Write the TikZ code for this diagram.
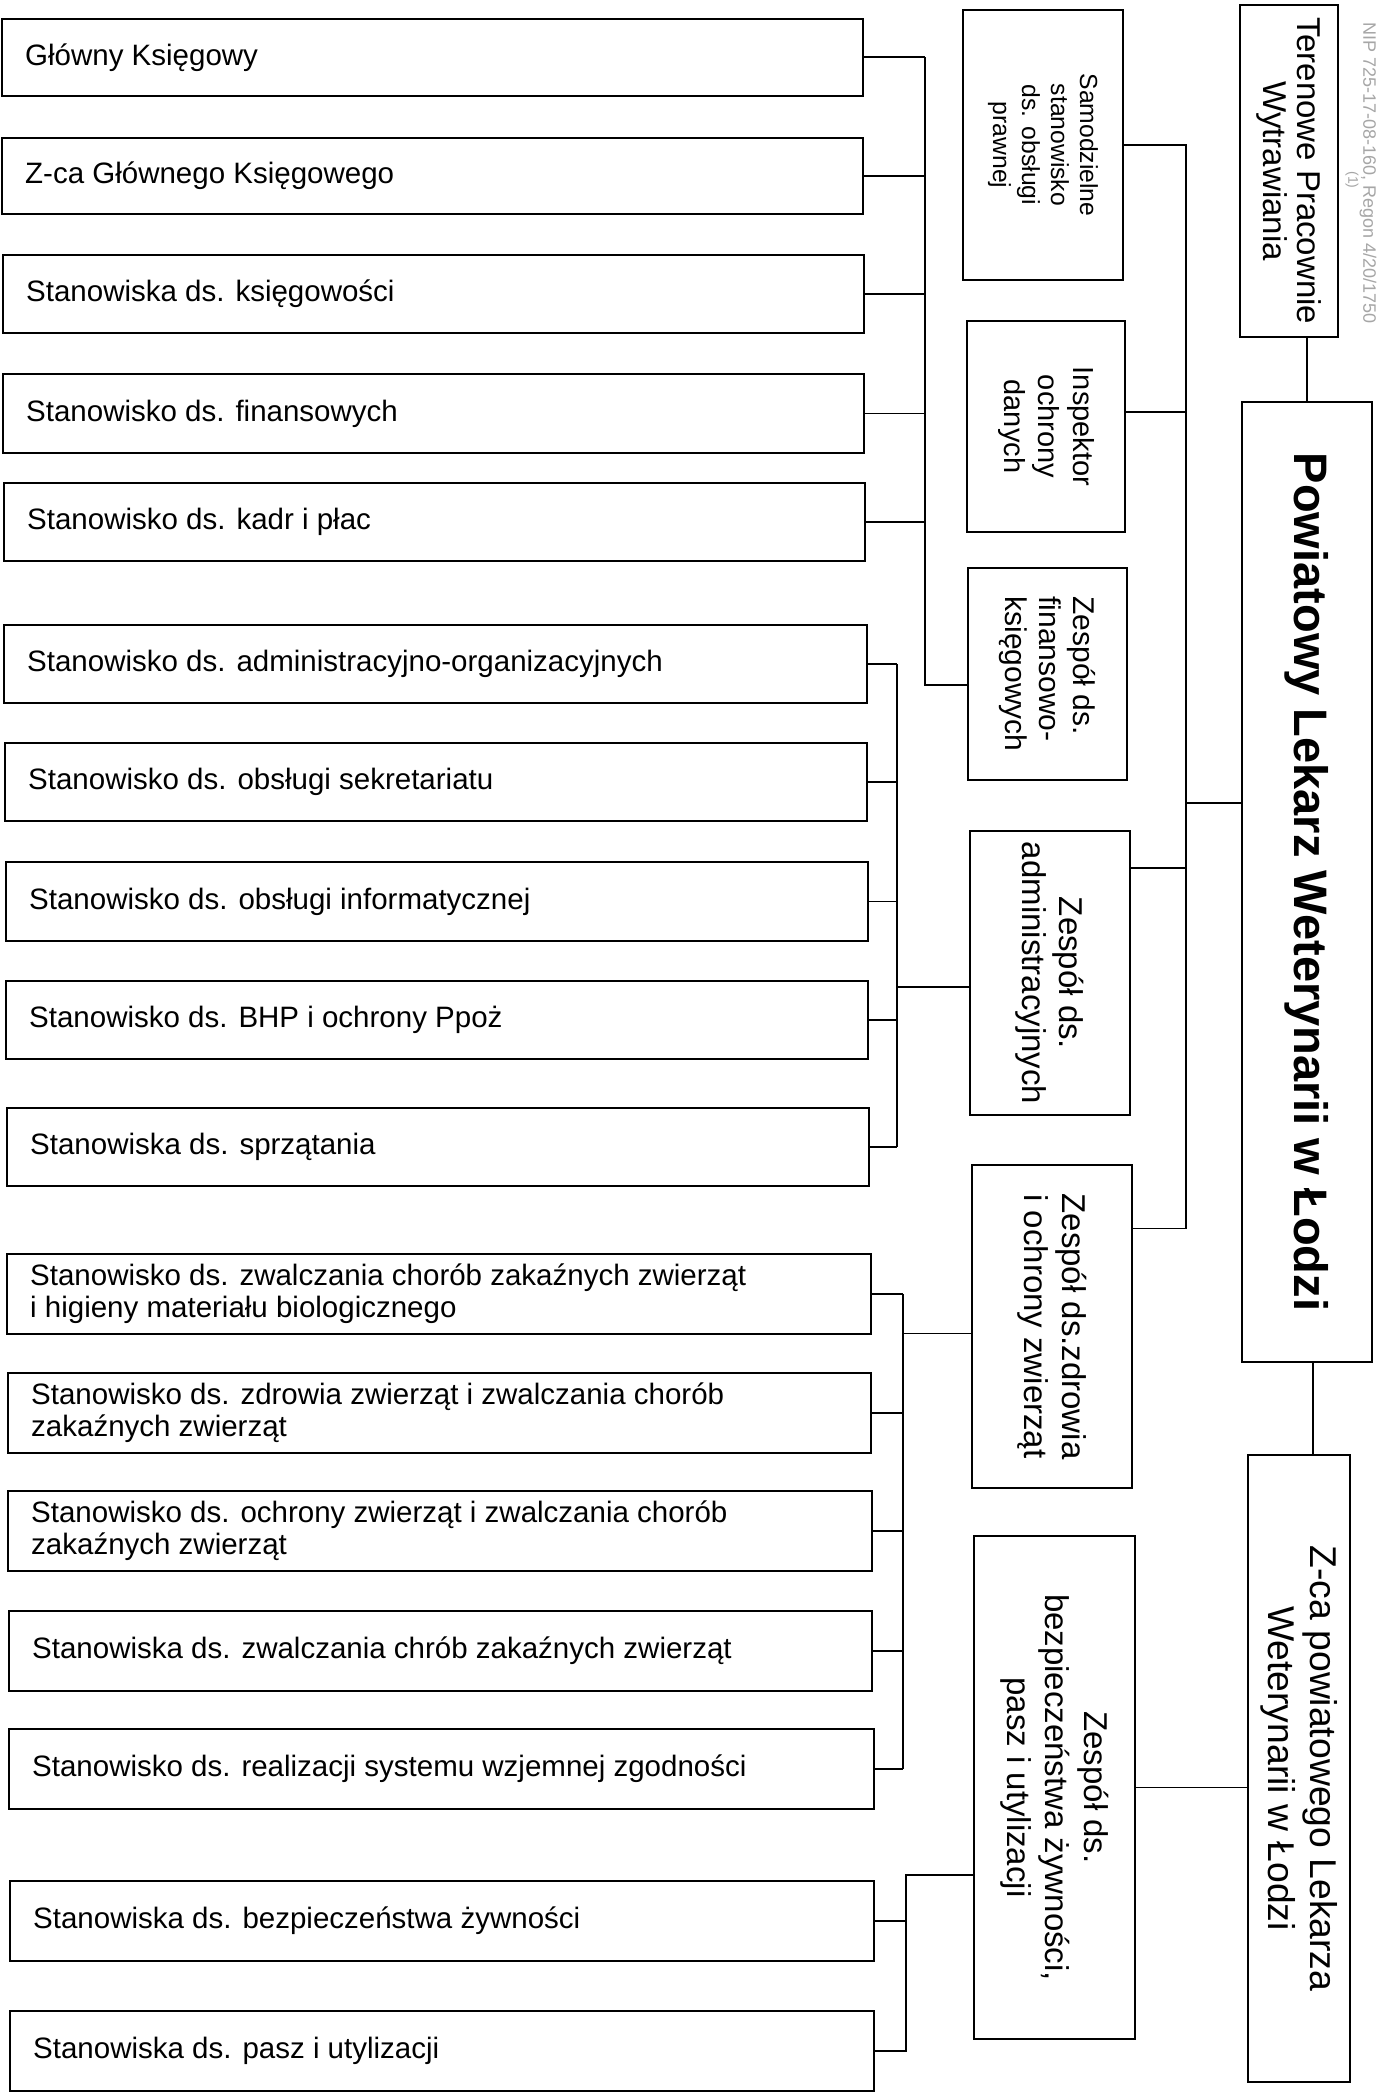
\documentclass[tikz,border=0pt]{standalone}
\usepackage{fontspec}
\setmainfont{Liberation Sans}
\newcommand{\orgLB}[6]{%
  \node[box, anchor=north west, minimum width=#4pt, minimum height=#5pt] (#1) at (#2,#3) {};
  \node[ltext] (#1t) at ([xshift=24pt]#1.west) {#6};}
\begin{document}
\begin{tikzpicture}[x=1pt,y=-1pt,
  box/.style={draw, line width=1.8pt, inner sep=0pt, fill=white},
  conn/.style={line width=1.8pt},
  ltext/.style={anchor=west, align=left, inner sep=0pt, font=\fontsize{29.5}{32.5}\selectfont},
  rot/.style={rotate=-90, align=center, inner sep=0pt},
  stamp/.style={rotate=-90, inner sep=0pt, text=black!35, font=\fontsize{18}{19}\selectfont}
]
\fill[white] (0,0) rectangle (1383,2098);
\useasboundingbox (0,0) rectangle (1383,2098);

% ---- left column boxes
\orgLB{b1}{1}{18}{861}{77}{Główny Księgowy}
\orgLB{b2}{1}{137}{861}{76}{Z-ca Głównego Księgowego}
\orgLB{b3}{2}{254}{861}{78}{Stanowiska ds. księgowości}
\orgLB{b4}{2}{373}{861}{79}{Stanowisko ds. finansowych}
\orgLB{b5}{3}{482}{861}{78}{Stanowisko ds. kadr i płac}
\orgLB{b6}{3}{624}{863}{78}{Stanowisko ds. administracyjno-organizacyjnych}
\orgLB{b7}{4}{742}{862}{78}{Stanowisko ds. obsługi sekretariatu}
\orgLB{b8}{5}{861}{862}{79}{Stanowisko ds. obsługi informatycznej}
\orgLB{b9}{5}{980}{862}{78}{Stanowisko ds. BHP i ochrony Ppoż}
\orgLB{b10}{6}{1107}{862}{78}{Stanowiska ds. sprzątania}
\orgLB{b11}{6}{1253}{864}{80}{Stanowisko ds. zwalczania chorób zakaźnych zwierząt\\i higieny materiału biologicznego}
\orgLB{b12}{7}{1372}{863}{80}{Stanowisko ds. zdrowia zwierząt i zwalczania chorób\\zakaźnych zwierząt}
\orgLB{b13}{7}{1490}{864}{80}{Stanowisko ds. ochrony zwierząt i zwalczania chorób\\zakaźnych zwierząt}
\orgLB{b14}{8}{1610}{863}{80}{Stanowiska ds. zwalczania chrób zakaźnych zwierząt}
\orgLB{b15}{8}{1728}{865}{80}{Stanowisko ds. realizacji systemu wzjemnej zgodności}
\orgLB{b16}{9}{1880}{864}{80}{Stanowiska ds. bezpieczeństwa żywności}
\orgLB{b17}{9}{2010}{864}{80}{Stanowiska ds. pasz i utylizacji}

% ---- middle column boxes
\node[box, minimum width=160pt, minimum height=270pt] (samo) at (1043,145) {};
\node[box, minimum width=158pt, minimum height=211pt] (insp) at (1046,426.5) {};
\node[box, minimum width=159pt, minimum height=212pt] (zfin) at (1047.5,674) {};
\node[box, minimum width=160pt, minimum height=284pt] (zadm) at (1050,973) {};
\node[box, minimum width=160pt, minimum height=323pt] (zzdr) at (1052,1326.5) {};
\node[box, minimum width=161pt, minimum height=503pt] (zbez) at (1054.5,1787.5) {};

% ---- right column boxes
\node[box, minimum width=98pt, minimum height=332pt] (teren) at (1289,171) {};
\node[box, minimum width=130pt, minimum height=960pt] (main) at (1307,882) {};
\node[box, minimum width=102pt, minimum height=627pt] (zca) at (1299,1768.5) {};

% ---- rotated texts
\node[rot, font=\fontsize{33}{34}\selectfont] (terenT) at (teren) {Terenowe Pracownie\\Wytrawiania};
\node[rot, font=\fontsize{47}{50}\selectfont\bfseries] (mainT) at (main) {Powiatowy Lekarz Weterynarii w Łodzi};
\node[rot, font=\fontsize{37.3}{42}\selectfont] (zcaT) at (zca) {Z-ca powiatowego Lekarza\\Weterynarii w Łodzi};
\node[rot, font=\fontsize{24.7}{29}\selectfont] (samoT) at (samo) {Samodzielne\\stanowisko\\ds. obsługi\\prawnej};
\node[rot, font=\fontsize{29}{34.5}\selectfont] (inspT) at (insp) {Inspektor\\ochrony\\danych};
\node[rot, align=left, font=\fontsize{30}{34}\selectfont] (zfinT) at (zfin) {Zespół ds.\\finansowo-\\księgowych};
\node[rot, font=\fontsize{33}{37}\selectfont] (zadmT) at (zadm) {Zespół ds.\\administracyjnych};
\node[rot, font=\fontsize{33}{38}\selectfont] (zzdrT) at (zzdr) {Zespół ds.zdrowia\\i ochrony zwierząt};
\node[rot, font=\fontsize{33}{38.5}\selectfont] (zbezT) at (zbez) {Zespół ds.\\bezpieczeństwa żywności,\\pasz i utylizacji};

% ---- stamp
\node[stamp] (stamp1) at (1368,173) {NIP 725-17-08-160, Regon 4/20/1750};
\node[stamp, font=\fontsize{14}{15}\selectfont] (stamp2) at (1352,180) {(1)};

% ---- connector coordinates
\coordinate (vA) at (925,0);
\coordinate (vB) at (897,0);
\coordinate (vC) at (903,0);
\coordinate (vD) at (906,0);
\coordinate (mv) at (1186,0);

% group A
\foreach \b in {b1,b2,b3,b4,b5} \draw[conn] (\b.east) -- (\b.east -| vA);
\coordinate (zfinL) at ([yshift=-11pt]zfin.west);
\draw[conn] (b1.east -| vA) -- (zfinL -| vA) -- (zfinL);

% group B
\foreach \b in {b6,b7,b8,b9,b10} \draw[conn] (\b.east) -- (\b.east -| vB);
\draw[conn] (b6.east -| vB) -- (b10.east -| vB);
\coordinate (zadmL) at ([yshift=-14pt]zadm.west);
\draw[conn] (zadmL -| vB) -- (zadmL);

% group C
\foreach \b in {b11,b12,b13,b14,b15} \draw[conn] (\b.east) -- (\b.east -| vC);
\draw[conn] (b11.east -| vC) -- (b15.east -| vC);
\coordinate (zzdrL) at ([yshift=-7pt]zzdr.west);
\draw[conn] (zzdrL -| vC) -- (zzdrL);

% group D
\coordinate (dTop) at ([yshift=-87.5pt]zbez.west);
\draw[conn] (dTop) -- (dTop -| vD) -- (b17.east -| vD) -- (b17.east);
\draw[conn] (b16.east) -- (b16.east -| vD);

% middle trunk
\coordinate (inspR) at ([yshift=14.5pt]insp.east);
\coordinate (mainL) at ([yshift=79pt]main.west);
\coordinate (zadmR) at ([yshift=105pt]zadm.east);
\coordinate (zzdrR) at ([yshift=98pt]zzdr.east);
\draw[conn] (samo.east) -- (samo.east -| mv) -- (zzdrR -| mv) -- (zzdrR);
\draw[conn] (inspR) -- (inspR -| mv);
\draw[conn] (mainL) -- (mainL -| mv);
\draw[conn] (zadmR) -- (zadmR -| mv);

% right column
\draw[conn] (main.north) -- (main.north |- teren.south);
\draw[conn] ([xshift=6pt]main.south) -- ([xshift=6pt]main.south |- zca.north);
\draw[conn] (zbez.east) -- (zbez.east -| zca.west);
\end{tikzpicture}
\end{document}
